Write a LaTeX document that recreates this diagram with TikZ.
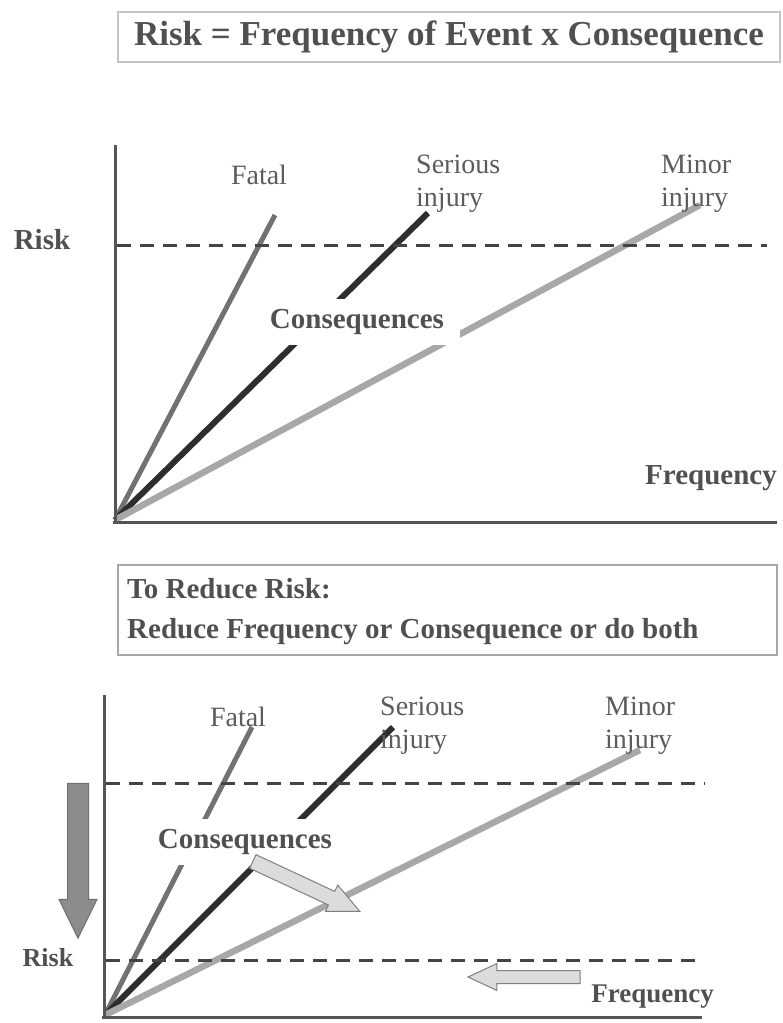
\documentclass[tikz,border=0pt]{standalone}
\usepackage{fontspec}
\setmainfont{Liberation Serif}
\usetikzlibrary{shapes.arrows}
\definecolor{titlegray}{HTML}{505050}
\definecolor{boxgray}{HTML}{C4C4C4}
\definecolor{boxgraydark}{HTML}{A8A8A8}
\definecolor{axisgray}{HTML}{555555}
\definecolor{dashgray}{HTML}{444444}
\definecolor{fatalgray}{HTML}{727272}
\definecolor{seriousgray}{HTML}{2E2E2E}
\definecolor{minorgray}{HTML}{A8A8A8}
\definecolor{labelgray}{HTML}{5C5C5C}
\definecolor{boldgray}{HTML}{505050}
\definecolor{bigarrowgray}{HTML}{8C8C8C}
\definecolor{lightarrowgray}{HTML}{DCDCDC}
\begin{document}
\begin{tikzpicture}[x=1pt,y=-1pt,
  axisline/.style={draw=axisgray, line width=3pt},
  risklevel/.style={draw=dashgray, line width=3pt, dash pattern=on 14pt off 9pt},
  fatalline/.style={draw=fatalgray, line width=5pt},
  seriousline/.style={draw=seriousgray, line width=6pt},
  minorline/.style={draw=minorgray, line width=6.5pt},
  lbl/.style={text=labelgray, font=\fontsize{28}{33}\selectfont, align=left, inner sep=0pt},
  boldlbl/.style={text=boldgray, font=\bfseries\fontsize{29}{34}\selectfont, inner sep=0pt},
  gaplbl/.style={boldlbl, fill=white, inner xsep=14pt, inner ysep=10pt},
  titlebox/.style={draw=boxgray, line width=1.5pt},
  blockarrow/.style={single arrow, draw=#1, line width=1pt, inner sep=0pt, single arrow head indent=0pt},
]
\useasboundingbox (0,0) rectangle (783,1023);

% ---------- upper panel: definition of risk ----------
\node[titlebox, minimum width=662pt, minimum height=50pt] (title) at (449,37) {};
\node[text=titlegray, font=\bfseries\fontsize{35}{40}\selectfont, inner sep=0pt] (titletext) at (449,37) {Risk = Frequency of Event x Consequence};

\coordinate (oA) at (115,520);
\coordinate (fA) at (275,215);
\coordinate (sA) at (428,213);
\coordinate (mA) at (700,205);
\draw[fatalline] (oA) -- (fA);
\draw[seriousline] (oA) -- (sA);
\draw[minorline] (oA) -- (mA);

\coordinate (yA) at (115,145);
\coordinate (yA0) at (115,522);
\coordinate (xA0) at (113,522);
\coordinate (xA) at (777,522);
\draw[axisline] (yA) -- (yA0);
\draw[axisline] (xA0) -- (xA);

\coordinate (rA1) at (117,245);
\coordinate (rA2) at (767,245);
\draw[risklevel] (rA1) -- (rA2);

\node[gaplbl, inner xsep=16pt] (consA) at (357,322) {Consequences};
\node[boldlbl] (riskA) at (42,240) {Risk};
\node[boldlbl, anchor=east] (freqA) at (777,478) {Frequency};
\node[lbl] (fatalA) at (259,175) {Fatal};
\node[lbl, anchor=west] (seriousA) at (416,184) {Serious\\injury};
\node[lbl, anchor=west] (minorA) at (661,184) {Minor\\injury};

% ---------- lower panel: reducing risk ----------
\node[titlebox, draw=boxgraydark, minimum width=659pt, minimum height=90pt] (rule) at (447.5,610) {};
\node[text=titlegray, font=\bfseries\fontsize{29}{40}\selectfont, inner sep=0pt, align=left, anchor=west] (ruletext) at (127,612) {To Reduce Risk:\\Reduce Frequency or Consequence or do both};

\coordinate (oB) at (105,1015);
\coordinate (fB) at (252,727);
\coordinate (sB) at (393,727);
\coordinate (mB) at (640,750);
\draw[fatalline] (oB) -- (fB);
\draw[seriousline] (oB) -- (sB);
\draw[minorline] (oB) -- (mB);

\coordinate (yB) at (104,695);
\coordinate (yB0) at (104,1018);
\coordinate (xB0) at (102,1017);
\coordinate (xB) at (702,1017);
\draw[axisline] (yB) -- (yB0);
\draw[axisline] (xB0) -- (xB);

\coordinate (rB1) at (106,783);
\coordinate (rB2) at (705,783);
\coordinate (rB3) at (106,960);
\coordinate (rB4) at (702,960);
\draw[risklevel] (rB1) -- (rB2);
\draw[risklevel] (rB3) -- (rB4);

\node[gaplbl] (consB) at (245,842) {Consequences};
\node[lbl] (fatalB) at (238,717) {Fatal};
\node[lbl, anchor=west] (seriousB) at (380,726) {Serious\\injury};
\node[lbl, anchor=west] (minorB) at (605,726) {Minor\\injury};
\node[boldlbl, font=\bfseries\fontsize{26}{30}\selectfont] (riskB) at (48,958) {Risk};
\node[boldlbl, font=\bfseries\fontsize{27}{30}\selectfont, anchor=east] (freqB) at (714,997) {Frequency};

% block arrows showing the two ways down
\node[blockarrow=bigarrowgray!80!black, fill=bigarrowgray, rotate=-90,
      minimum height=155pt, minimum width=37pt, single arrow head extend=8.5pt,
      single arrow tip angle=52] (down) at (78,850) {\rule{0pt}{20pt}};
\node[blockarrow=gray, fill=lightarrowgray, rotate=-25,
      minimum height=118pt, minimum width=28pt, single arrow head extend=7pt,
      single arrow tip angle=50] (lessharm) at (299,883) {\rule{0pt}{14pt}};
\node[blockarrow=gray, fill=lightarrowgray, rotate=180,
      minimum height=112pt, minimum width=26pt, single arrow head extend=7pt,
      single arrow tip angle=50] (lessoften) at (531,977) {\rule{0pt}{12pt}};
\end{tikzpicture}
\end{document}
